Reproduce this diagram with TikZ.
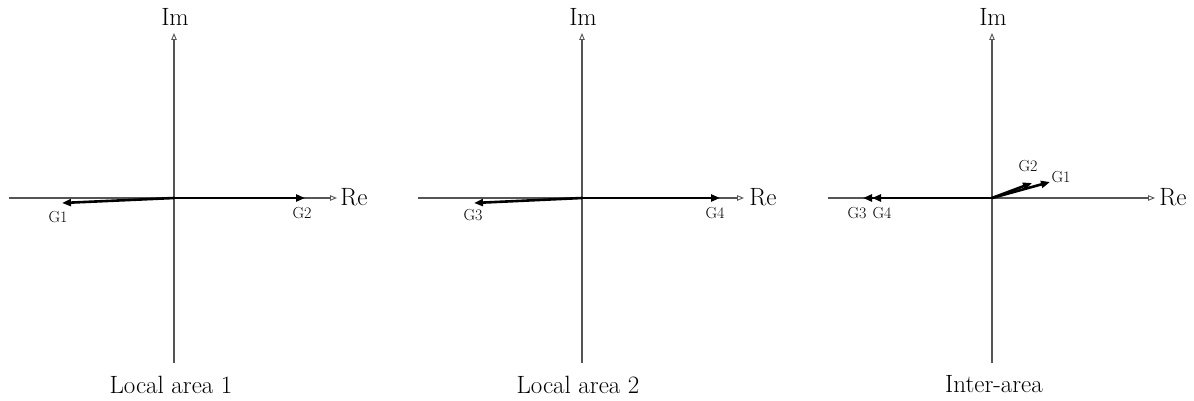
\documentclass[tikz,border=0pt]{standalone}
\usepackage{fontspec}
\usepackage{tikz}
\usetikzlibrary{arrows.meta}
\definecolor{axisgray}{HTML}{555555}

\begin{document}
\begin{tikzpicture}[
  x=1pt,y=-1pt,
  axis/.style={draw=axisgray,line width=1.2pt,-{Triangle[open,length=7pt,width=5.5pt,line width=0.9pt]}},
  vec/.style={draw=black,line width=2.6pt,-{Triangle[length=9pt,width=7pt]}},
  big/.style={font=\fontsize{25}{29}\selectfont,inner sep=0pt},
  glabel/.style={font=\fontsize{16}{18}\selectfont,inner sep=0pt}]
  \useasboundingbox (0,0) rectangle (1194,401);
  % local area 1
  \begin{scope}[shift={(174,198)}]
    \coordinate (o1) at (0,0);
    \coordinate (xl1) at (-165,0); \coordinate (xr1) at (163,0);
    \coordinate (yb1) at (0,165); \coordinate (yt1) at (0,-165);
    \draw[axis] (xl1) -- (xr1);
    \draw[axis] (yb1) -- (yt1);
    \node[big] (re1) at (180,-1) {Re};
    \node[big] (im1) at (1,-181) {Im};
    \coordinate (g1tip) at (-112,5); \coordinate (g2tip) at (131,0);
    \draw[vec] (o1) -- (g1tip);
    \draw[vec] (o1) -- (g2tip);
    \node[glabel] (lg1) at (-116,19) {G1};
    \node[glabel] (lg2) at (128,15) {G2};
    \node[big] (cap1) at (-3,187) {Local area 1};
  \end{scope}
  % local area 2
  \begin{scope}[shift={(582,198)}]
    \coordinate (o2) at (0,0);
    \coordinate (xl2) at (-164,0); \coordinate (xr2) at (162,0);
    \coordinate (yb2) at (0,165); \coordinate (yt2) at (0,-165);
    \draw[axis] (xl2) -- (xr2);
    \draw[axis] (yb2) -- (yt2);
    \node[big] (re2) at (181,-1) {Re};
    \node[big] (im2) at (1,-181) {Im};
    \coordinate (g3tip) at (-108,5); \coordinate (g4tip) at (138,0);
    \draw[vec] (o2) -- (g3tip);
    \draw[vec] (o2) -- (g4tip);
    \node[glabel] (lg3) at (-109,17) {G3};
    \node[glabel] (lg4) at (133,15) {G4};
    \node[big] (cap2) at (-4,187) {Local area 2};
  \end{scope}
  % inter-area
  \begin{scope}[shift={(992,198)}]
    \coordinate (o3) at (0,0);
    \coordinate (xl3) at (-164,0); \coordinate (xr3) at (163,0);
    \coordinate (yb3) at (0,165); \coordinate (yt3) at (0,-165);
    \draw[axis] (xl3) -- (xr3);
    \draw[axis] (yb3) -- (yt3);
    \node[big] (re3) at (181,-1) {Re};
    \node[big] (im3) at (1,-181) {Im};
    \coordinate (ig1tip) at (58,-16); \coordinate (ig2tip) at (40,-15);
    \coordinate (ig3tip) at (-129,0); \coordinate (ig4tip) at (-120,0);
    \draw[vec] (o3) -- (ig3tip);
    \draw[vec] (o3) -- (ig4tip);
    \draw[vec] (o3) -- (ig1tip);
    \draw[vec] (o3) -- (ig2tip);
    \node[glabel] (ilg1) at (69,-21) {G1};
    \node[glabel] (ilg2) at (36,-32) {G2};
    \node[glabel] (ilg3) at (-135,15) {G3};
    \node[glabel] (ilg4) at (-110,15) {G4};
    \node[big] (cap3) at (2,186) {Inter-area};
  \end{scope}
\end{tikzpicture}
\end{document}
